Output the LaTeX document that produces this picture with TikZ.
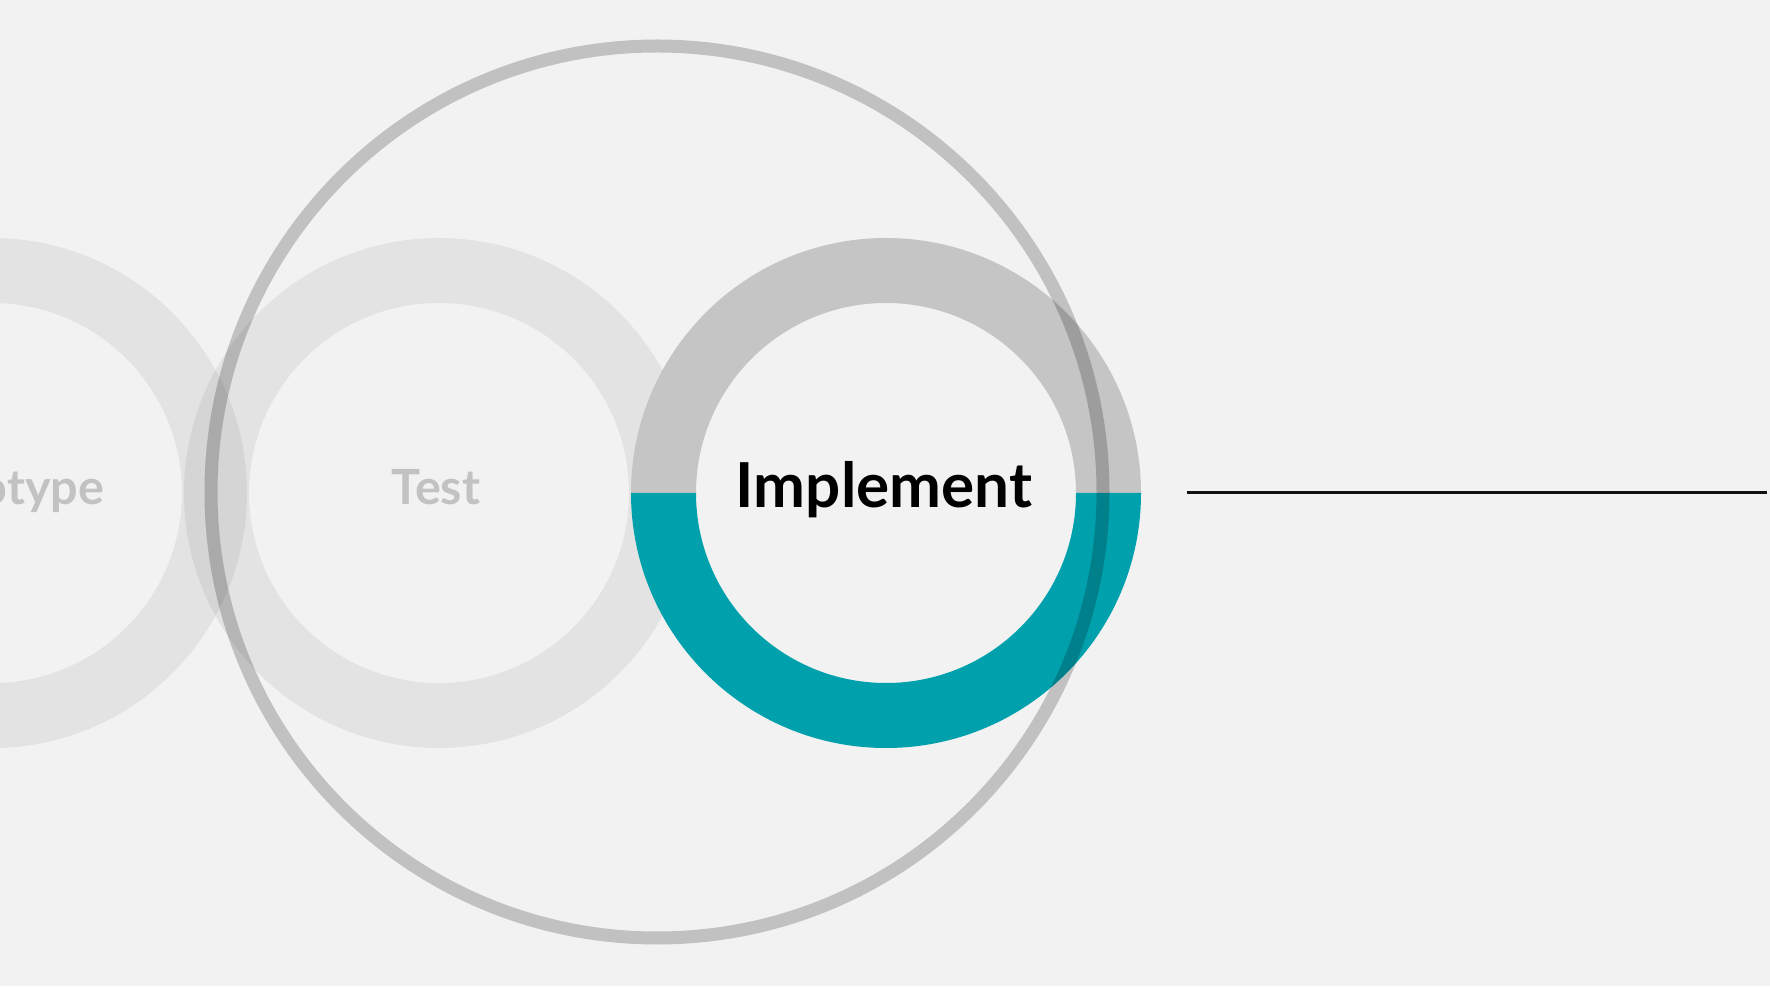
\documentclass[tikz,border=0pt]{standalone}
\usepackage{fontspec}
\setmainfont{Lato}
\usepackage{xcolor}
\definecolor{stageBg}{HTML}{F2F2F2}
\definecolor{stageDone}{HTML}{C5C5C5}
\definecolor{stageTeal}{HTML}{00A1AD}
\definecolor{stageText}{HTML}{C2C2C2}
\definecolor{stageDark}{HTML}{111111}
\usetikzlibrary{positioning}
\tikzset{
    ringband/.style={
        fill=black,
        fill opacity=0.058,
        even odd rule
    },
    orbit/.style={
        draw=black,
        draw opacity=0.2,
        line width=13pt
    },
    stagelabel/.style={
        anchor=base,
        inner sep=0pt,
        text=stageText,
        font=\fontsize{48.5}{58}\selectfont\bfseries
    },
    activelabel/.style={
        anchor=base,
        inner sep=0pt,
        text=black,
        font=\fontsize{62}{74}\selectfont\bfseries
    },
    timeline/.style={
        draw=stageDark,
        line width=3pt
    }
}

\begin{document}
\begin{tikzpicture}[x=1pt,y=1pt]
    % Canvas
    \useasboundingbox (0,0) rectangle (1770,986);
    \fill[stageBg] (0,0) rectangle (1770,986);
    \clip (0,0) rectangle (1770,986);

    % Centres
    \coordinate (proto) at (-8,493);
    \coordinate (test) at (439,493);
    \coordinate (impl) at (886,493);
    \coordinate (orbitc) at (657,494);

    % Past stages
    \fill[ringband] (proto) circle[radius=255pt] (proto) circle[radius=190pt];
    \fill[ringband] (test) circle[radius=255pt] (test) circle[radius=190pt];

    % Current stage
    \fill[stageDone] ([xshift=-255pt]impl) arc[start angle=180, end angle=0, radius=255pt]
        -- ([xshift=190pt]impl) arc[start angle=0, end angle=180, radius=190pt] -- cycle;
    \fill[stageTeal] ([xshift=-255pt]impl) arc[start angle=180, end angle=360, radius=255pt]
        -- ([xshift=190pt]impl) arc[start angle=360, end angle=180, radius=190pt] -- cycle;

    % Big orbit
    \draw[orbit] (orbitc) circle[radius=446pt];

    % Labels
    \node[stagelabel] (protolabel) at (-4,481) {Prototype};
    \node[stagelabel] (testlabel) at (436,481) {Test};
    \node[activelabel] (impllabel) at (884,478) {Implement};

    % Line
    \coordinate (lineStart) at (1187,493);
    \coordinate (lineEnd) at (1767,493);
    \draw[timeline] (lineStart) -- (lineEnd);
\end{tikzpicture}
\end{document}
